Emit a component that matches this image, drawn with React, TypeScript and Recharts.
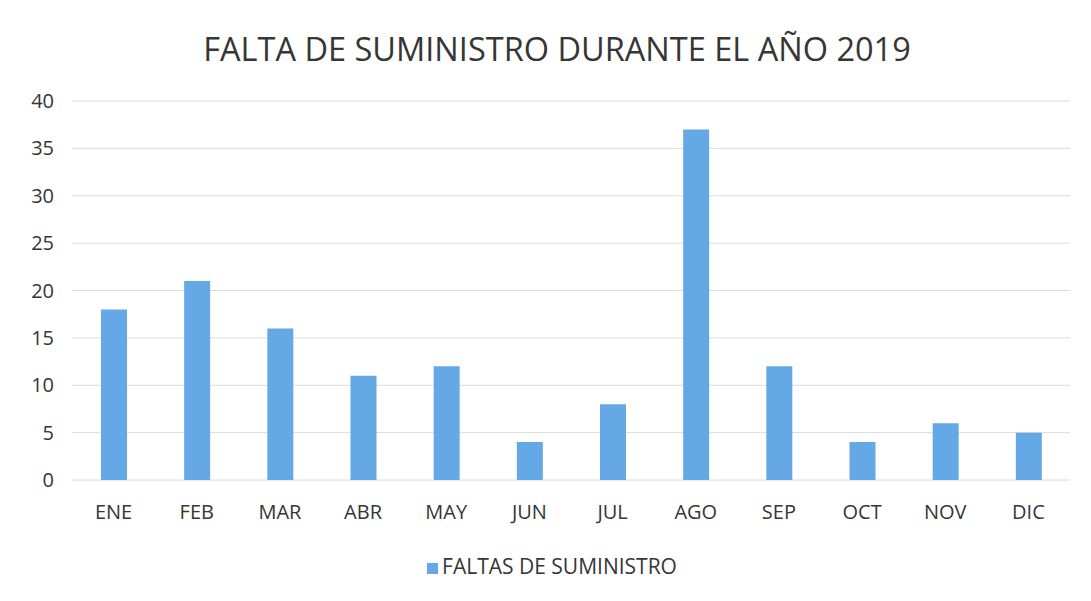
import React from 'react';
import { BarChart, Bar, XAxis, YAxis, CartesianGrid, Legend } from 'recharts';

const months = ['ENE', 'FEB', 'MAR', 'ABR', 'MAY', 'JUN', 'JUL', 'AGO', 'SEP', 'OCT', 'NOV', 'DIC'];
const faltas = [18, 21, 16, 11, 12, 4, 8, 37, 12, 4, 6, 5];
const yTicks = [0, 5, 10, 15, 20, 25, 30, 35, 40];

const data = months.map((m, i) => ({ name: m, faltas: faltas[i] }));

const font = '"Open Sans", "Liberation Sans", sans-serif';
const textColor = '#363636';

export default function App() {
  return (
    <div style={{ position: 'relative', width: 1091, height: 601, background: '#fff', fontFamily: font }}>
      <style>{'body { margin: 0; }'}</style>
      <div
        style={{
          position: 'absolute',
          top: 28,
          left: 0,
          width: 1114,
          textAlign: 'center',
          fontSize: 32.5,
          lineHeight: '42px',
          color: textColor,
        }}
      >
        FALTA DE SUMINISTRO DURANTE EL AÑO 2019
      </div>
      <BarChart width={1091} height={601} data={data} margin={{ top: 101, right: 21, bottom: 63, left: 0 }}>
        <CartesianGrid stroke="#dcdcdc" vertical={false} />
        <XAxis
          dataKey="name"
          axisLine={false}
          tickLine={false}
          tickMargin={19}
          tick={{ fill: textColor, fontSize: 20, fontFamily: font }}
        />
        <YAxis
          width={72}
          domain={[0, 40]}
          ticks={yTicks}
          axisLine={false}
          tickLine={false}
          tickMargin={12}
          tick={{ fill: textColor, fontSize: 20, fontFamily: font }}
        />
        <Legend
          verticalAlign="bottom"
          iconType="square"
          iconSize={11}
          wrapperStyle={{ top: 552, left: 0, width: 1114, fontSize: 21, fontFamily: font }}
          formatter={(v) => <span style={{ color: textColor }}>{v}</span>}
        />
        <Bar dataKey="faltas" name="FALTAS DE SUMINISTRO" fill="#64a8e6" barSize={26} isAnimationActive={false} />
      </BarChart>
    </div>
  );
}
